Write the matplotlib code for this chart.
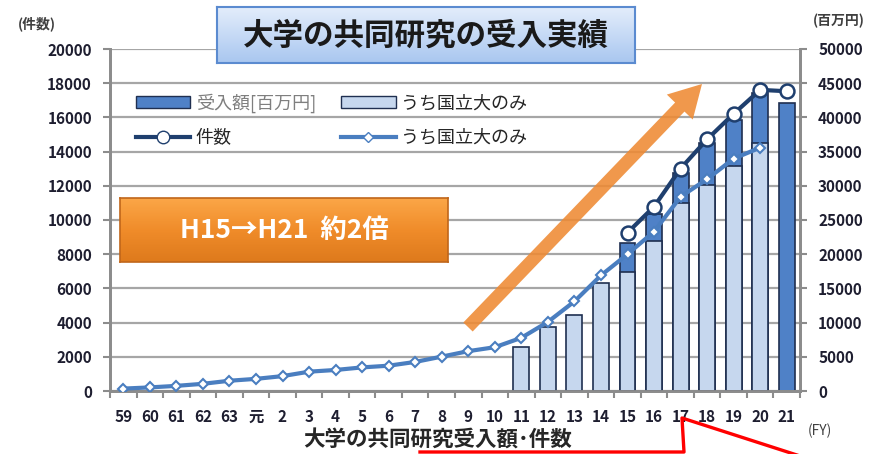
import numpy as np
import matplotlib
matplotlib.use('Agg')
import matplotlib.pyplot as plt
from matplotlib.patches import Patch, FancyArrow
from matplotlib.lines import Line2D
from matplotlib.colors import LinearSegmentedColormap

plt.rcParams['font.family'] = ['Noto Sans CJK JP', 'DejaVu Sans']

# fiscal years (showa 59 .. heisei 21)
years = ['59', '60', '61', '62', '63', '元', '2', '3', '4', '5', '6', '7', '8',
         '9', '10', '11', '12', '13', '14', '15', '16', '17', '18', '19', '20', '21']

# 受入額 (million yen), right axis
amt_total = [None] * 19 + [21600, 25900, 31840, 36210, 39600, 43590, 42040]
amt_national = [None] * 15 + [6470, 9390, 11140, 15800, 17400, 21870, 27460,
                              30130, 32900, 36210, None]

# 件数, left axis
cnt_total = [None] * 19 + [9260, 10780, 13010, 14720, 16210, 17610, 17530]
cnt_national = [140, 210, 300, 420, 600, 710, 870, 1130, 1230, 1380, 1480, 1700,
                2010, 2330, 2560, 3110, 4040, 5240, 6760, 8000, 9320, 11360,
                12390, 13590, 14230, None]

W, H = 875, 454
def fx(px):
    return px / W
def fy(py):
    return 1 - py / H

dark = '#4F81C7'
light = '#C6D7EE'
edge = '#1F2F50'
navy = '#1F3F6E'
midblue = '#4A7EC0'
grey = '#8C8C8C'
txt = '#1E1E30'

fig = plt.figure(figsize=(8.75, 4.54), dpi=100)
ax = fig.add_axes([fx(110), fy(391), fx(800) - fx(110), (391 - 49) / H])
ax2 = ax.twinx()

x = np.arange(len(years))
at = np.array(amt_total, dtype=float)
an = np.array(amt_national, dtype=float)
m = ~np.isnan(at)
ax.bar(x[m], at[m], width=0.6, color=dark, edgecolor=edge, lw=1.2, zorder=2)
m = ~np.isnan(an)
ax.bar(x[m], an[m], width=0.6, color=light, edgecolor=edge, lw=1.2, zorder=3)

ax2.plot(x, np.array(cnt_national, dtype=float), color=midblue, lw=3, marker='D',
         ms=5.5, mfc='white', mec=midblue, mew=1.5, zorder=3)
ax2.plot(x, np.array(cnt_total, dtype=float), color=navy, lw=3, marker='o',
         ms=10, mfc='white', mec=navy, mew=1.8, zorder=4)

ax.set_xlim(-0.5, len(years) - 0.5)
ax.set_ylim(0, 50000)
ax2.set_ylim(0, 20000)
ax.set_yticks(range(0, 50001, 5000))
ax2.set_yticks(range(0, 20001, 2000))
ax.yaxis.tick_right()
ax2.yaxis.tick_left()
ax.yaxis.grid(True, color='#A6A6A6', lw=1.6)
ax.set_axisbelow(True)

ax.set_xticks(x)
ax.set_xticklabels(years)
ax.set_xticks(np.arange(-0.5, len(years), 1), minor=True)
ax.tick_params(axis='x', which='major', length=0, pad=13)
ax.tick_params(axis='x', which='minor', length=5, color=grey, width=1.5)
for a in (ax, ax2):
    a.tick_params(axis='y', length=5, color=grey, width=1.5, pad=8)
    for lbl in a.get_yticklabels() + a.get_xticklabels():
        lbl.set_fontweight('bold')
        lbl.set_fontsize(11)
        lbl.set_color(txt)
    for s in ('left', 'right', 'bottom'):
        a.spines[s].set_color(grey)
        a.spines[s].set_linewidth(2)
    a.spines['top'].set_visible(False)

# legend
handles = [Patch(fc=dark, ec=edge),
           Line2D([], [], color=navy, lw=3, marker='o', ms=9, mfc='white', mec=navy),
           Patch(fc=light, ec=edge),
           Line2D([], [], color=midblue, lw=3, marker='D', ms=5, mfc='white', mec=midblue)]
labels = ['受入額[百万円]', '件数', 'うち国立大のみ', 'うち国立大のみ']
leg = ax2.legend(handles, labels, ncol=2, loc='upper left',
                 bbox_to_anchor=(fx(120), fy(77)), bbox_transform=fig.transFigure,
                 frameon=False, fontsize=13, handlelength=3.0, handleheight=0.6,
                 columnspacing=1.4, labelspacing=0.9, handletextpad=0.3)
for i, t in enumerate(leg.get_texts()):
    t.set_color('#7F7F7F' if i == 0 else '#262626')

# title box
tb = fig.add_axes([fx(217), fy(63), fx(635) - fx(217), (63 - 7) / H])
cm = LinearSegmentedColormap.from_list('tb', ['#E3EDFB', '#A9C7F0'])
tb.imshow(np.linspace(0, 1, 50).reshape(-1, 1), aspect='auto', cmap=cm,
          extent=[0, 1, 0, 1])
tb.set_xticks([])
tb.set_yticks([])
for s in tb.spines.values():
    s.set_color('#5B8BD0')
    s.set_linewidth(1.5)
tb.text(0.5, 0.48, '大学の共同研究の受入実績', ha='center', va='center',
        fontsize=22, fontweight='bold', color='#1A1A1A')

# orange box
ob = fig.add_axes([fx(120), fy(262), fx(448) - fx(120), (262 - 198) / H])
cm2 = LinearSegmentedColormap.from_list('ob', ['#FBA647', '#F08C2A', '#DE7A1C'])
ob.imshow(np.linspace(0, 1, 50).reshape(-1, 1), aspect='auto', cmap=cm2,
          extent=[0, 1, 0, 1])
ob.set_xticks([])
ob.set_yticks([])
for s in ob.spines.values():
    s.set_color('#C0661A')
    s.set_linewidth(1.2)
ob.text(0.5, 0.5, 'H15→H21  約2倍', ha='center', va='center',
        fontsize=19, fontweight='bold', color='white')

# orange arrow (pixel -> inch)
x0, y0 = 468 / 100, (H - 327) / 100
x1, y1 = 702 / 100, (H - 84) / 100
arr = FancyArrow(x0, y0, x1 - x0, y1 - y0, width=0.13, head_width=0.36,
                 head_length=0.32, length_includes_head=True,
                 transform=fig.dpi_scale_trans, color='#EE8A33', alpha=0.88,
                 lw=0)
fig.patches.append(arr)

# red callout outline at the bottom
rx = np.array([420, 684, 682, 800]) / 100
ry = (H - np.array([452, 452, 418, 456])) / 100
fig.lines.append(Line2D(rx, ry, color='#FF0000', lw=2.4,
                        transform=fig.dpi_scale_trans))

fig.text(fx(37), fy(24), '(件数)', ha='center', va='center', fontsize=10,
         fontweight='bold', color='#404040')
fig.text(fx(839), fy(21), '(百万円)', ha='center', va='center', fontsize=10,
         fontweight='bold', color='#404040')
fig.text(fx(820), fy(431), '(FY)', ha='center', va='center', fontsize=10,
         color='#404040')
fig.text(fx(438), fy(440), '大学の共同研究受入額･件数', ha='center', va='center',
         fontsize=15.5, fontweight='bold', color='#262626')

fig.savefig('out.png', dpi=100)
